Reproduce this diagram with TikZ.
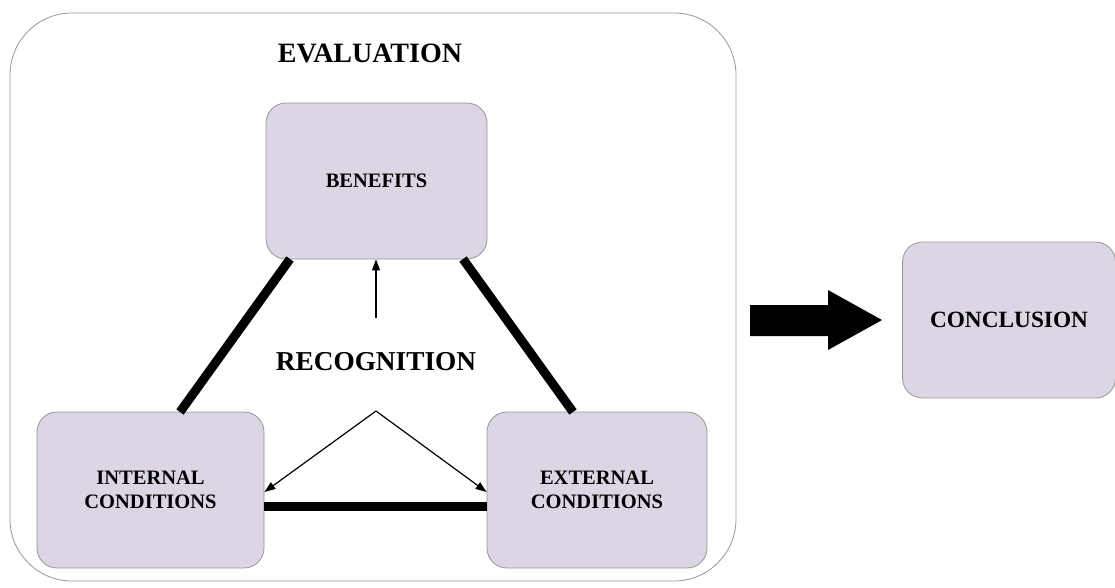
\documentclass[tikz,border=0pt]{standalone}
\usepackage{fontspec}
\setmainfont{Liberation Serif}
\usetikzlibrary{arrows.meta}
\definecolor{boxfill}{RGB}{220,214,228}
\definecolor{boxline}{RGB}{150,150,150}
\tikzset{
  pbox/.style={draw=boxline, line width=0.8pt, fill=boxfill, rounded corners=20pt, minimum width=#1, minimum height=156pt, inner sep=0pt, align=center, font=\bfseries\fontsize{20.5}{24}\selectfont},
  pbox/.default=221pt,
  thickline/.style={line width=9pt, black},
  thinarrow/.style={line width=1.2pt, -{Triangle[length=11pt,width=8pt]}},
  bigtext/.style={font=\bfseries\fontsize{27.3}{32}\selectfont, inner sep=0pt}
}
\begin{document}
\begin{tikzpicture}[x=1pt,y=-1pt]
\useasboundingbox (0,0) rectangle (1115,587);
\draw[boxline, line width=0.8pt, rounded corners=62pt] (10,13) rectangle (736,581);
\node[bigtext, font=\bfseries\fontsize{28}{32}\selectfont] (eval) at (370,53) {EVALUATION};
\node[pbox] (ben) at (376.5,181) {BENEFITS};
\node[pbox=227pt] (int) at (150.5,490) {INTERNAL\\CONDITIONS};
\node[pbox=220pt] (ext) at (597,490) {EXTERNAL\\CONDITIONS};
\node[pbox=213pt, font=\bfseries\fontsize{23.3}{26}\selectfont] (conc) at (1009,320) {CONCLUSION};
\node[bigtext] (rec) at (376,362) {RECOGNITION};
\coordinate (upstart) at (376,318);
\coordinate (apex) at (376,411);
\draw[thickline] (290,259) -- (180,412);
\draw[thickline] (463,259) -- (573,412);
\draw[thickline] (int.east |- 0,506) -- (ext.west |- 0,506);
\draw[thinarrow] (upstart) -- (ben.south -| upstart);
\draw[thinarrow] (apex) -- (int.east |- 0,492);
\draw[thinarrow] (apex) -- (ext.west |- 0,492);
\fill[black] (750,305) -- (828,305) -- (828,290) -- (882,320) -- (828,350) -- (828,336) -- (750,336) -- cycle;
\end{tikzpicture}
\end{document}
